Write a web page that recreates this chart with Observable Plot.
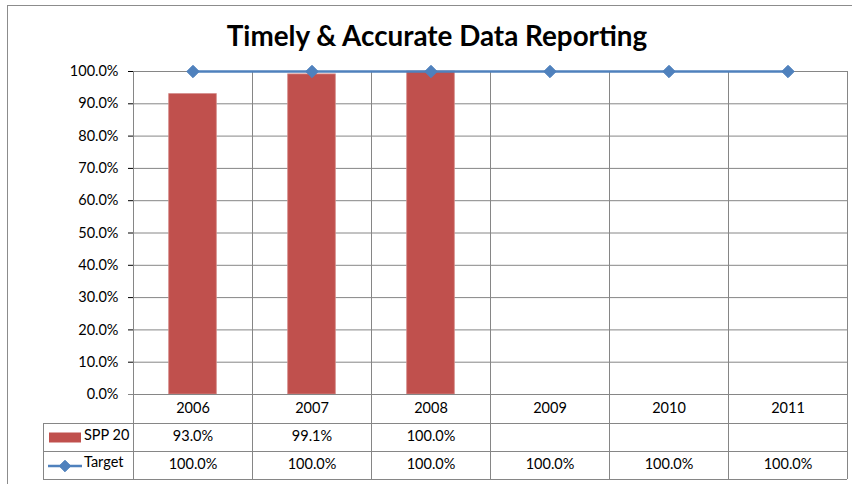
<!DOCTYPE html>
<html><head><meta charset="utf-8">
<script src="https://cdn.jsdelivr.net/npm/d3@7"></script>
<script src="https://cdn.jsdelivr.net/npm/@observablehq/plot@0.6"></script>
<style>
html,body{margin:0;padding:0;background:#fff;overflow:hidden;}
#wrap{position:relative;width:852px;height:484px;font-family:Lato,"Open Sans",sans-serif;}
#border{position:absolute;left:7px;top:5px;width:870px;height:500px;border:1.5px solid #8c8c8c;box-sizing:border-box;}
#title{position:absolute;left:0;width:874px;top:19px;text-align:center;font-weight:bold;font-size:27.8px;color:#000;}
#chart{position:absolute;left:0;top:0;}
</style></head>
<body><div id="wrap"><div id="border"></div><div id="chart"></div><div id="title">Timely &amp; Accurate Data Reporting</div></div>
<script>
const years = ["2006","2007","2008","2009","2010","2011"];
const sppYears = ["2006","2007","2008"];
const sppValues = [0.93, 0.991, 1.0];
const targetValues = [1.0, 1.0, 1.0, 1.0, 1.0, 1.0];
const yTicks = [0,0.1,0.2,0.3,0.4,0.5,0.6,0.7,0.8,0.9,1.0];

const spp = sppYears.map((y,i)=>({year:y, value:sppValues[i]}));
const target = years.map((y,i)=>({year:y, value:targetValues[i]}));
const fmt = d3.format(".1%");

const W=852, H=484, ML=133, MR=5, MT=71, MB=90;
const bw = (W-ML-MR)/years.length;
const red="#C0504D", blue="#4F81BD", grid="#868686";
const font = 'Lato, "Open Sans", sans-serif';
const fs = 14.5;

const plot = Plot.plot({
  width: W, height: H,
  marginLeft: ML, marginRight: MR, marginTop: MT, marginBottom: MB,
  style: {fontFamily: font, fontSize: fs + "px", color: "#000", background: "transparent"},
  x: {type: "band", domain: years, padding: 0, axis: null},
  y: {domain: [0,1], ticks: yTicks, tickFormat: fmt, tickSize: 5, tickPadding: 10, label: null},
  marks: [
    Plot.gridY(yTicks, {stroke: grid, strokeOpacity: 1}),
    Plot.barY(spp, {x: "year", y: "value", fill: red, stroke: "#d48a88", strokeWidth: 0.8, insetLeft: bw*0.3, insetRight: bw*0.3}),
    Plot.ruleX(years, {x: d=>d, dx: -bw/2, stroke: grid, insetBottom: -(MB-5)}),
    Plot.ruleX(["2011"], {x: d=>d, dx: bw/2, stroke: grid, insetBottom: -(MB-5)}),
    Plot.ruleX(["2006"], {x: d=>d, dx: -bw/2-90, stroke: grid, insetTop: 352, insetBottom: -(MB-5)}),
    Plot.ruleY([0], {stroke: grid, insetLeft: -5}),
    Plot.ruleY([0], {stroke: grid, dy: 29, insetLeft: -90}),
    Plot.ruleY([0], {stroke: grid, dy: 57, insetLeft: -90}),
    Plot.ruleY([0], {stroke: grid, dy: 85, insetLeft: -90}),
    Plot.line(target, {x: "year", y: "value", stroke: blue, strokeWidth: 2.5}),
    Plot.dot(target, {x: "year", y: "value", symbol: "diamond2", fill: blue, stroke: blue, strokeWidth: 1, r: 5.6}),
    Plot.text(years, {x: d=>d, frameAnchor: "bottom", dy: 18, text: d=>d, fontSize: fs}),
    Plot.text(spp, {x: "year", frameAnchor: "bottom", dy: 46, text: d=>fmt(d.value), fontSize: fs}),
    Plot.text(target, {x: "year", frameAnchor: "bottom", dy: 74, text: d=>fmt(d.value), fontSize: fs}),
    Plot.ruleY([0], {stroke: red, strokeWidth: 10, dy: 43, insetLeft: -84, insetRight: 766}),
    Plot.ruleY([0], {stroke: blue, strokeWidth: 2.5, dy: 71.5, insetLeft: -85, insetRight: 765}),
    Plot.dot(["2006"], {x: d=>d, frameAnchor: "bottom", dx: -128, dy: 71.5, symbol: "diamond2", fill: blue, stroke: blue, strokeWidth: 1, r: 5.2}),
    Plot.text(["SPP 20"], {x: ()=>"2006", frameAnchor: "bottom", dx: -109, dy: 45.5, text: d=>d, textAnchor: "start", fontSize: fs}),
    Plot.text(["Target"], {x: ()=>"2006", frameAnchor: "bottom", dx: -109, dy: 72.5, text: d=>d, textAnchor: "start", fontSize: fs})
  ]
});
document.getElementById("chart").appendChild(plot);
</script>
</body></html>
